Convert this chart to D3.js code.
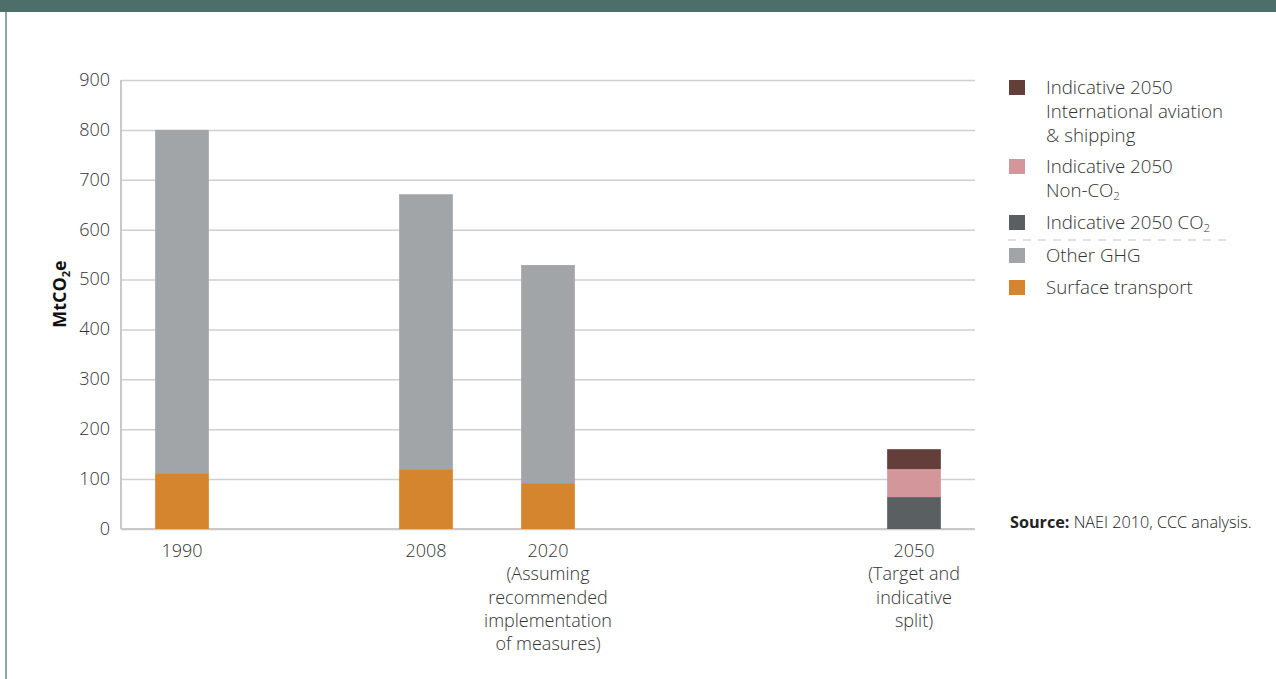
<!DOCTYPE html>
<html>
<head>
<meta charset="utf-8">
<script src="https://cdn.jsdelivr.net/npm/d3@7"></script>
<style>
  body { margin: 0; background: #fff; }
  svg { display: block; font-family: "Open Sans", "Noto Sans", sans-serif; }
  .axis text { font-family: "Open Sans", "Noto Sans", sans-serif; font-size: 18px; font-weight: 300; fill: #333; }
  .legend text { font-size: 18.7px; font-weight: 300; fill: #333; }
</style>
</head>
<body>
<svg id="chart"></svg>
<script>
// slots along the x axis (gaps keep the spacing of the original figure)
const slots = ["1990", "gap1", "2008", "2020", "gap2", "gap3", "2050"];
const categories = ["1990", "2008", "2020", "2050"];
const tickLabels = [
  ["1990"],
  ["2008"],
  ["2020", "(Assuming", "recommended", "implementation", "of measures)"],
  ["2050", "(Target and", "indicative", "split)"]
];

// MtCO2e
const surfaceTransport = [112, 120, 92, 0];
const otherGHG = [688, 551, 437, 0];
const co2In2050 = [0, 0, 0, 64];
const nonCo2In2050 = [0, 0, 0, 56];
const aviationShipping2050 = [0, 0, 0, 40];

const yTicks = [0, 100, 200, 300, 400, 500, 600, 700, 800, 900];

const seriesKeys = ["surface", "other", "co2", "nonco2", "aviation"];
const seriesColors = {
  surface: "#d6852f",
  other: "#a2a5a8",
  co2: "#5a5f62",
  nonco2: "#d3979b",
  aviation: "#643e38"
};

// legend, top to bottom
const legendItems = [
  { key: "aviation", lines: [["Indicative 2050"], ["International aviation"], ["& shipping"]] },
  { key: "nonco2", lines: [["Indicative 2050"], ["Non-CO", "2"]] },
  { key: "co2", lines: [["Indicative 2050 CO", "2"]] },
  { key: "other", lines: [["Other GHG"]] },
  { key: "surface", lines: [["Surface transport"]] }
];

const config = {
  width: 1276,
  height: 679,
  margin: { top: 80, right: 301, bottom: 150, left: 121 }
};

const svg = d3.select("#chart")
    .attr("width", config.width)
    .attr("height", config.height);

// page frame: top band and left rule
svg.append("rect")
    .attr("x", 0).attr("y", 0)
    .attr("width", config.width).attr("height", 12)
    .attr("fill", "#4c7069");
svg.append("rect")
    .attr("x", 5).attr("y", 12)
    .attr("width", 2).attr("height", config.height - 12)
    .attr("fill", "#8aa8a2");

const innerW = config.width - config.margin.left - config.margin.right;
const innerH = config.height - config.margin.top - config.margin.bottom;

const chart = svg.append("g")
    .attr("transform", `translate(${config.margin.left},${config.margin.top})`);

const xScale = d3.scaleBand()
    .domain(slots)
    .range([0, innerW])
    .paddingInner(0.56)
    .paddingOuter(0.28);

const yScale = d3.scaleLinear()
    .domain([0, 900])
    .range([innerH, 0]);

// y axis with gridlines
const yAxisG = chart.append("g")
    .attr("class", "axis y-axis")
    .call(d3.axisLeft(yScale).tickValues(yTicks).tickSize(-innerW).tickPadding(11));
yAxisG.select(".domain").remove();
yAxisG.selectAll(".tick line")
    .attr("stroke", "#cfcfcf")
    .attr("stroke-width", 1.5);
yAxisG.selectAll(".tick text").attr("dy", "0.3em");

// left axis line and baseline
chart.append("line")
    .attr("x1", 0).attr("x2", 0)
    .attr("y1", 0).attr("y2", innerH)
    .attr("stroke", "#c8c8c8")
    .attr("stroke-width", 2);
chart.append("line")
    .attr("x1", 0).attr("x2", innerW)
    .attr("y1", innerH).attr("y2", innerH)
    .attr("stroke", "#c8c8c8")
    .attr("stroke-width", 2);

// stacked bars
const table = categories.map((c, i) => ({
  cat: c,
  surface: surfaceTransport[i],
  other: otherGHG[i],
  co2: co2In2050[i],
  nonco2: nonCo2In2050[i],
  aviation: aviationShipping2050[i]
}));

const stacked = d3.stack().keys(seriesKeys)(table);

chart.append("g")
    .selectAll("g")
    .data(stacked)
    .join("g")
    .attr("fill", d => seriesColors[d.key])
    .selectAll("rect")
    .data(d => d.filter(p => p[1] > p[0]))
    .join("rect")
    .attr("x", d => xScale(d.data.cat))
    .attr("width", xScale.bandwidth())
    .attr("y", d => yScale(d[1]))
    .attr("height", d => yScale(d[0]) - yScale(d[1]));

// x axis labels (multi-line)
const xAxisG = chart.append("g")
    .attr("class", "axis x-axis")
    .attr("transform", `translate(0,${innerH})`)
    .call(d3.axisBottom(xScale).tickValues(categories).tickSize(0).tickFormat(""));
xAxisG.select(".domain").remove();
xAxisG.selectAll(".tick text").remove();
xAxisG.selectAll(".tick")
    .append("text")
    .attr("text-anchor", "middle")
    .attr("y", 28)
    .selectAll("tspan")
    .data(d => tickLabels[categories.indexOf(d)])
    .join("tspan")
    .attr("x", 0)
    .attr("dy", (d, i) => i === 0 ? 0 : 23.3)
    .text(d => d);

// y axis title
const yTitle = svg.append("text")
    .attr("transform", "translate(66,294) rotate(-90)")
    .attr("text-anchor", "middle")
    .attr("font-size", 18)
    .attr("font-weight", 700)
    .attr("fill", "#111");
yTitle.append("tspan").text("MtCO");
yTitle.append("tspan").attr("font-size", 11).attr("dy", 4).text("2");
yTitle.append("tspan").attr("dy", -4).text("e");

// legend
const legend = svg.append("g").attr("class", "legend");
const legendTops = [80, 159, 215, 248, 280];
legendItems.forEach((item, i) => {
  const g = legend.append("g").attr("transform", `translate(1009,${legendTops[i]})`);
  g.append("rect")
      .attr("width", 16).attr("height", 15)
      .attr("fill", seriesColors[item.key]);
  item.lines.forEach((ln, j) => {
    const t = g.append("text")
        .attr("x", 37)
        .attr("y", 14 + j * 24);
    t.append("tspan").text(ln[0]);
    if (ln[1]) {
      t.append("tspan").attr("font-size", 11.5).attr("dy", 3).text(ln[1]);
    }
  });
});
legend.append("line")
    .attr("x1", 1008).attr("x2", 1227)
    .attr("y1", 240).attr("y2", 240)
    .attr("stroke", "#c4c4c4")
    .attr("stroke-width", 1.2)
    .attr("stroke-dasharray", "8,7");

// source note
const src = svg.append("text")
    .attr("x", 1010)
    .attr("y", 528)
    .attr("font-size", 16.2)
    .attr("fill", "#222");
src.append("tspan").attr("font-weight", 700).text("Source:");
src.append("tspan").attr("font-weight", 300).text(" NAEI 2010, CCC analysis.");
</script>
</body>
</html>
